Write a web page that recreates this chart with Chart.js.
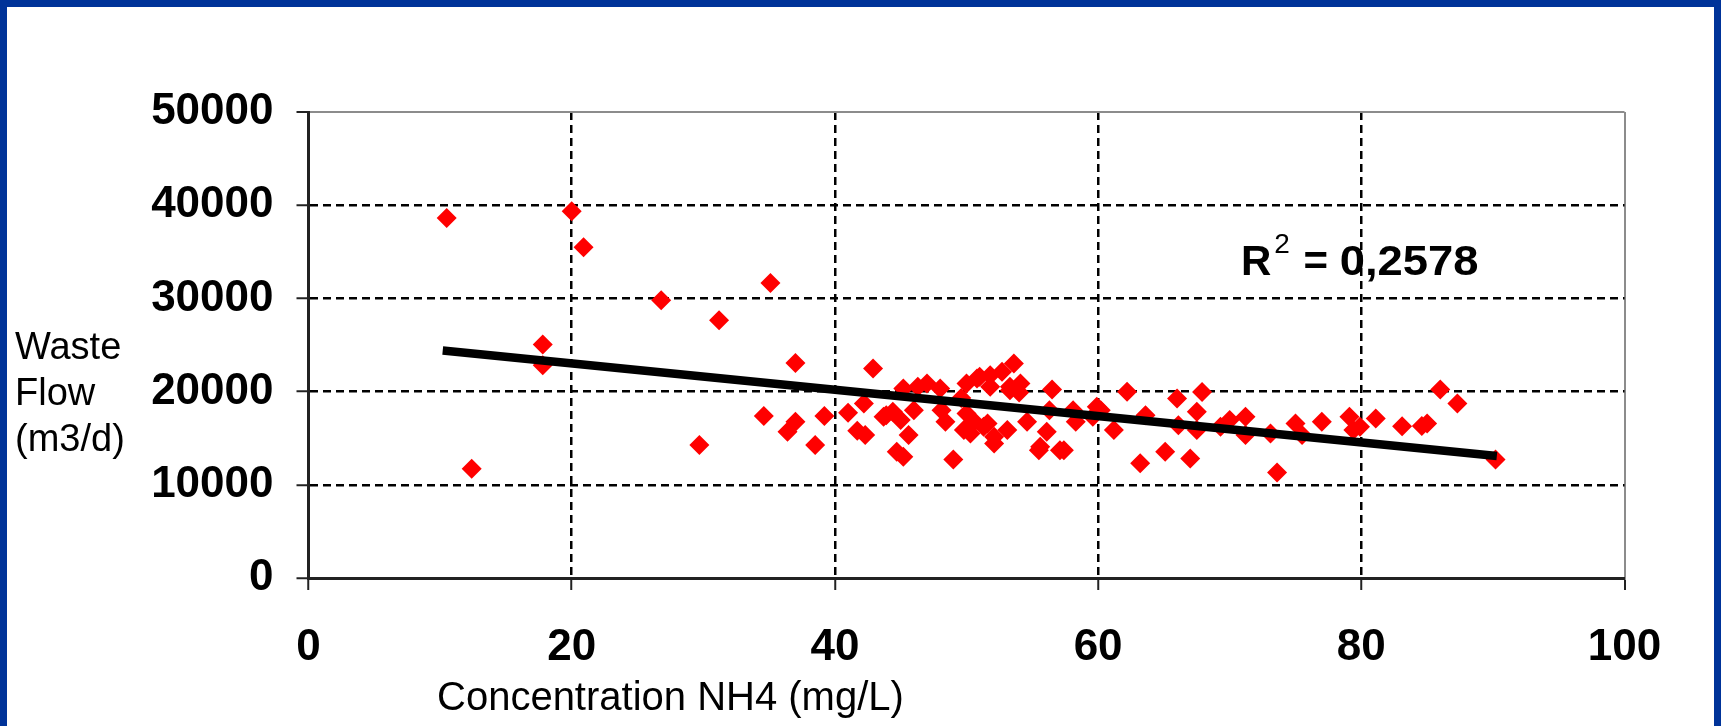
<!DOCTYPE html>
<html>
<head>
<meta charset="utf-8">
<script src="https://cdn.jsdelivr.net/npm/chart.js@4.4.0/dist/chart.umd.min.js"></script>
<style>
    html, body { margin: 0; padding: 0; background: #003399; overflow: hidden; }
    #frame { position: absolute; left: 7px; top: 7px; width: 1707px; height: 719px; background: #fff; }
    #wasteChart { display: block; }
</style>
</head>
<body>
<div id="frame">
    <canvas id="wasteChart" width="1707" height="719"></canvas>
</div>
<script>
    'use strict';

    // NH4 concentration (mg/L) vs waste flow (m3/d)
    var nh4 = [10.5, 20.0, 20.9, 26.8, 31.2, 17.8, 17.8, 12.4, 29.7, 35.1,
        37.0, 42.9, 53.6, 34.6, 37.0, 36.4, 39.2, 38.5, 41.0, 41.7,
        42.3, 42.2, 44.4, 44.7, 45.2, 45.6, 45.2, 46.3, 48.0, 43.9,
        45.0, 46.0, 48.1, 48.4, 49.0, 50.0, 50.8, 51.8, 52.7, 53.3,
        54.1, 50.0, 50.6, 49.8, 51.6, 52.1, 53.1, 54.6, 56.5, 56.3,
        56.1, 55.5, 57.4, 58.1, 58.3, 59.6, 60.2, 61.2, 62.2, 63.2,
        63.6, 65.1, 66.0, 66.1, 67.0, 67.5, 67.5, 67.9, 69.3, 70.0,
        71.2, 71.2, 73.1, 73.6, 75.0, 75.5, 77.0, 79.1, 79.4, 79.9,
        81.1, 83.1, 85.0, 84.6, 86.0, 87.3, 90.2, 52.1, 47.0, 43.7,
        51.3, 55.6, 57.1, 59.9, 50.3, 51.0, 51.8, 53.3, 49.6, 54.0];
    var flow = [38620, 39340, 35480, 29800, 27660, 25050, 22830, 11720, 14260, 31660,
        23080, 22480, 23010, 17370, 16760, 15680, 17370, 14260, 17730, 15800,
        15350, 18730, 17830, 13540, 13000, 15330, 20340, 20510, 20340, 17470,
        16940, 18010, 18010, 16760, 12720, 20870, 21410, 21760, 22120, 20510,
        20870, 17650, 16760, 15870, 16580, 15150, 15870, 16760, 20230, 18010,
        15680, 13720, 13720, 18010, 16760, 17290, 18010, 15870, 19980, 12300,
        17470, 13540, 19260, 16400, 12830, 17830, 15870, 19970, 16220, 16940,
        17290, 15330, 15510, 11330, 16580, 15330, 16760, 17290, 15870, 16220,
        17120, 16290, 16580, 16300, 20230, 18730, 12720, 14440, 20870, 17290,
        16220, 14080, 13720, 18370, 15510, 21580, 20510, 20150, 19300, 19900];

    // linear trend line, end points as drawn
    var trendX = [10.2, 90.3];
    var trendY = [24400, 13080];

    var xTicks = [0, 20, 40, 60, 80, 100];
    var yTicks = [0, 10000, 20000, 30000, 40000, 50000];

    var yTitle = ['Waste', 'Flow', '(m3/d)'];
    var xTitle = 'Concentration NH4 (mg/L)';
    var rSquared = '0,2578';

    var FONT = '"Liberation Sans", Arial, Helvetica, sans-serif';

    var points = nh4.map(function (x, i) { return { x: x, y: flow[i] }; });
    var trend = trendX.map(function (x, i) { return { x: x, y: trendY[i] }; });

    function gridColor(last) {
        return function (ctx) {
            if (!ctx.tick) return '#000';
            if (ctx.tick.value === 0) return 'rgba(0,0,0,0)';
            if (ctx.tick.value === last) return '#8c8c8c';
            return '#000';
        };
    }

    function gridWidth(last) {
        return function (ctx) {
            return ctx.tick && ctx.tick.value === last ? 2 : 2.5;
        };
    }

    function gridDash(last) {
        return function (ctx) {
            if (!ctx.tick || ctx.tick.value === last) return [];
            return [8, 5];
        };
    }

    var textPlugin = {
        id: 'slideText',
        afterDraw: function (chart) {
            var c = chart.ctx;
            c.save();
            c.fillStyle = '#000';
            c.textBaseline = 'alphabetic';
            c.textAlign = 'left';

            // y axis title, three lines
            c.font = '38px ' + FONT;
            yTitle.forEach(function (line, i) {
                c.fillText(line, 8, 352 + i * 46);
            });

            // x axis title
            c.font = '40px ' + FONT;
            c.fillText(xTitle, 430, 703);

            // R squared
            var rx = 1234, ry = 268;
            c.font = 'bold 42px ' + FONT;
            c.fillText('R', rx, ry);
            var w = c.measureText('R').width;
            c.font = '28px ' + FONT;
            c.fillText('2', rx + w + 3, ry - 22);
            var w2 = c.measureText('2').width;
            c.font = 'bold 42px ' + FONT;
            var sx = rx + w + w2 + 5;
            c.fillText(' = ', sx, ry);
            sx += c.measureText(' = ').width;
            c.save();
            c.translate(sx, ry);
            c.scale(1.08, 1);
            c.fillText(rSquared, 0, 0);
            c.restore();
            c.restore();
        }
    };

    new Chart(document.getElementById('wasteChart'), {
        type: 'scatter',
        data: {
            datasets: [
                {
                    type: 'line',
                    data: trend,
                    borderColor: '#000',
                    borderWidth: 8.5,
                    borderCapStyle: 'butt',
                    pointRadius: 0,
                    fill: false,
                    order: 0
                },
                {
                    data: points,
                    pointStyle: 'rectRot',
                    pointRadius: 10,
                    backgroundColor: '#ff0000',
                    borderColor: '#ff0000',
                    borderWidth: 0,
                    order: 1
                }
            ]
        },
        options: {
            responsive: false,
            animation: false,
            devicePixelRatio: 1,
            layout: { padding: { left: 0, top: 105, right: 89.5, bottom: 0 } },
            plugins: {
                legend: { display: false },
                tooltip: { enabled: false }
            },
            scales: {
                x: {
                    type: 'linear',
                    min: 0,
                    max: 100,
                    afterBuildTicks: function (axis) {
                        axis.ticks = xTicks.map(function (v) { return { value: v }; });
                    },
                    afterFit: function (axis) { axis.height = 148; },
                    ticks: {
                        color: '#000',
                        padding: 31,
                        maxRotation: 0,
                        font: { family: FONT, size: 44, weight: 'bold' }
                    },
                    grid: {
                        color: gridColor(100),
                        lineWidth: gridWidth(100),
                        tickLength: 12,
                        tickColor: '#222',
                        tickWidth: 2,
                        tickBorderDash: []
                    },
                    border: { display: true, color: '#222', width: 3, dash: gridDash(100) }
                },
                y: {
                    min: 0,
                    max: 50000,
                    afterBuildTicks: function (axis) {
                        axis.ticks = yTicks.map(function (v) { return { value: v }; });
                    },
                    afterFit: function (axis) { axis.width = 301.5; },
                    ticks: {
                        color: '#000',
                        padding: 23,
                        font: { family: FONT, size: 44, weight: 'bold' },
                        callback: function (v) { return String(v); }
                    },
                    grid: {
                        color: gridColor(50000),
                        lineWidth: gridWidth(50000),
                        tickLength: 12,
                        tickColor: '#222',
                        tickWidth: 2,
                        tickBorderDash: []
                    },
                    border: { display: true, color: '#222', width: 3, dash: gridDash(50000) }
                }
            }
        },
        plugins: [textPlugin]
    });
</script>
</body>
</html>
